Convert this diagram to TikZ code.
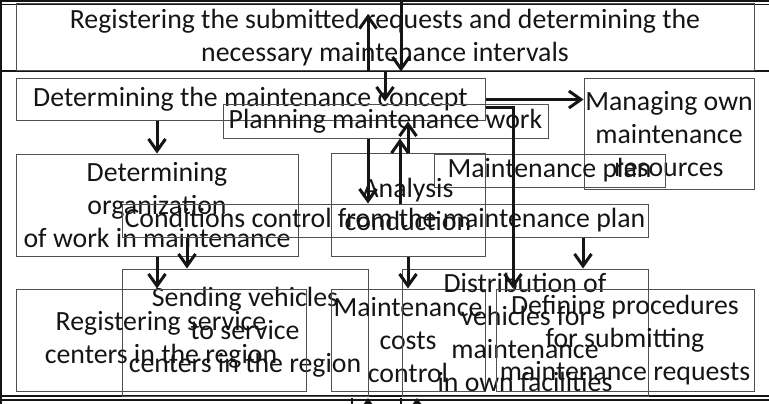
\documentclass[tikz,border=0pt]{standalone}
\usepackage{fontspec}
\setmainfont{Carlito}
\usetikzlibrary{arrows.meta,calc}
\definecolor{boxline}{HTML}{505050}
\definecolor{ink}{HTML}{151515}
\begin{document}
\begin{tikzpicture}[x=1pt,y=-1pt,
  box/.style={draw=boxline, line width=1pt, rectangle, inner sep=0pt,
    align=center, text=ink, font=\fontsize{27.8}{33}\selectfont},
  flow/.style={draw=ink, line width=3pt,
    -{Straight Barb[length=12pt,width=17pt]}},
  rule/.style={draw=ink, line width=2.6pt},
  thinrule/.style={draw=ink, line width=1.2pt}]
\path[use as bounding box, clip] (0,0) rectangle (769,404);

% page frame
\draw[rule, line width=2pt] (0,1) -- (769,1);
\draw[thinrule] (0,4.2) -- (769,4.2);
\draw[rule] (0,71) -- (769,71);
\draw[thinrule] (0,396) -- (769,396);
\draw[rule] (0,400) -- (769,400);
\draw[rule, line width=2pt] (1,0) -- (1,404);

% process boxes
\node[box, minimum width=738pt, minimum height=67pt] (req) at (385,37.5)
  {Registering the submitted requests and determining the\\necessary maintenance intervals};
\node[box, minimum width=469pt, minimum height=41pt] (concept) at (250.5,99.5)
  {Determining the maintenance concept};
\node[box, minimum width=325pt, minimum height=33pt] (plan) at (385.5,121.5)
  {Planning maintenance work};
\node[box, minimum width=170pt, minimum height=110pt] (own) at (669,134)
  {Managing own\\maintenance\\resources};
\node[box, minimum width=231pt, minimum height=33pt] (mplan) at (549.5,170.5)
  {Maintenance plan};
\node[box, minimum width=154pt, minimum height=103pt] (ana) at (408,204.5)
  {Analysis\\conduction};
\node[box, minimum width=282pt, minimum height=102pt] (org) at (157,205)
  {Determining\\organization\\of work in maintenance};
\node[box, minimum width=526pt, minimum height=33pt] (cond) at (385,220.5)
  {Conditions control from the maintenance plan};
\node[box, minimum width=246pt, minimum height=127pt] (send) at (245,332.5)
  {Sending vehicles\\to service\\centers in the region};
\node[box, minimum width=290pt, minimum height=102pt] (regsc) at (161,340)
  {Registering service\\centers in the region};
\node[box, minimum width=154pt, minimum height=102pt] (costs) at (408,340)
  {Maintenance\\costs\\control};
\node[box, minimum width=246pt, minimum height=127pt] (dist) at (525,332.5)
  {Distribution of\\vehicles for\\maintenance\\in own facilities};
\node[box, minimum width=258pt, minimum height=102pt] (proc) at (625,340)
  {Defining procedures\\for submitting\\maintenance requests};

% connector anchor points
\coordinate (inTop) at (401,0);
\coordinate (outTop) at (368,14);
\coordinate (p1) at ([xshift=-17.5pt]plan.south);
\coordinate (p2) at ([xshift=15pt]cond.north);
\coordinate (p3) at ([xshift=-58pt]send.north);
\coordinate (p4) at ([xshift=58pt]dist.north);
\coordinate (p5) at ([yshift=-8.5pt]concept.east);
\coordinate (p6) at ([xshift=-112pt]proc.north);
\coordinate (b1) at (352,398);
\coordinate (b1e) at (352,410);
\coordinate (b2) at (368,398);
\coordinate (b2s) at (368,416);
\coordinate (b3) at (401,398);
\coordinate (b3e) at (401,410);
\coordinate (b4) at (417,398);
\coordinate (b4s) at (417,416);

% connectors
\draw[flow] (inTop) -- (inTop |- req.south);
\draw[flow] (outTop |- req.south) -- (outTop);
\draw[flow] (req.south) -- ([yshift=-2pt]req.south |- concept.center);
\draw[flow] (concept.east) -- (concept.east -| own.west);
\draw[flow] (p5) -| (p6);
\draw[flow] (concept.south -| org.north) -- (org.north);
\draw[flow] (p1) -- (p1 |- cond.north);
\draw[flow] (p2) -- (p2 |- plan.south);
\draw[flow] (ana.north) -- (ana.north |- plan.center);
\draw[flow] (p3 |- cond.south) -- (p3);
\draw[flow] (p4 |- cond.south) -- (p4);
\draw[flow] (org.south) -- (org.south |- regsc.north);
\draw[flow] (ana.south) -- (costs.north);
\draw[rule] (b1) -- (b1e);
\draw[rule] (b3) -- (b3e);
\draw[flow] (b2s) -- (b2);
\draw[flow] (b4s) -- (b4);
\end{tikzpicture}
\end{document}
